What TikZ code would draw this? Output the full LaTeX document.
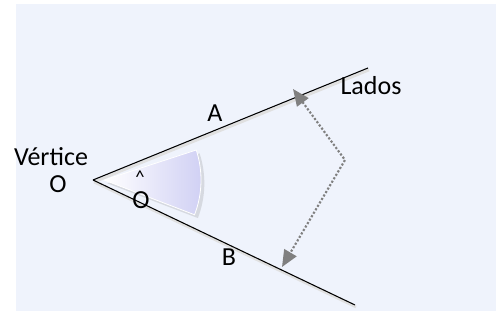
\documentclass[tikz,border=0pt]{standalone}
\usepackage{fontspec}
\setmainfont{Carlito}
\usepackage{xcolor}
\usepackage{tikz}
\usetikzlibrary{arrows.meta,positioning,calc,shadows}
\definecolor{fondo}{HTML}{EFF3FC}
\definecolor{lavanda}{HTML}{D0D0F4}

\begin{document}
\begin{tikzpicture}[
  x=0.75pt,y=0.75pt,
  font=\fontsize{19.5}{22}\selectfont,
  lado/.style={draw=black, line width=0.8pt},
  sombra/.style={draw=black!12, line width=2pt},
  lbl/.style={inner sep=1pt},
  guia/.style={{Triangle[length=12.5pt,width=10.5pt,fill=gray]}-{Triangle[length=12.5pt,width=10.5pt,fill=gray]}, draw=gray, line width=1.6pt, dash pattern=on 1.6pt off 1.4pt}
]
\useasboundingbox (0,0) rectangle (503,320);
\fill[fondo] (16,9) rectangle (496,316);

% vertex and the two sides
\coordinate (vertice) at (93,140);
\coordinate (finA) at (368,252);
\coordinate (finB) at (355,15);

% shaded angle sector
\path[left color=white, right color=lavanda, draw=white, line width=0.6pt,
      drop shadow={shadow xshift=2.5pt, shadow yshift=-2.5pt, opacity=0.22}]
  (104,140) -- ++(18:97) arc[start angle=18, end angle=-21, radius=97] -- cycle;

\draw[sombra] ($(vertice)+(1,-2)$) -- ($(finA)+(1,-2)$);
\draw[sombra] ($(vertice)+(1,-2)$) -- ($(finB)+(1,-2)$);
\draw[lado] (vertice) -- (finA);
\draw[lado] (vertice) -- (finB);

% dotted pointer to both sides
\coordinate (puntaA) at (293,231);
\coordinate (codo) at (345,160);
\coordinate (puntaB) at (282,53);
\draw[guia] (puntaA) -- (codo) -- (puntaB);

\node[lbl] (ladoA) at (215,207) {A};
\node[lbl] (ladoB) at (229,63) {B};
\node[lbl] (lados) at (371,234) {Lados};
\node[lbl] (vert) at (51,163) {Vértice};
\node[lbl] (nomO) at (58,136) {O};
\node[lbl] (angO) at (141,120) {O};
\node[lbl, font=\fontsize{14}{15}\selectfont] (sombrero) at (140,143) {\^{}};
\end{tikzpicture}
\end{document}
